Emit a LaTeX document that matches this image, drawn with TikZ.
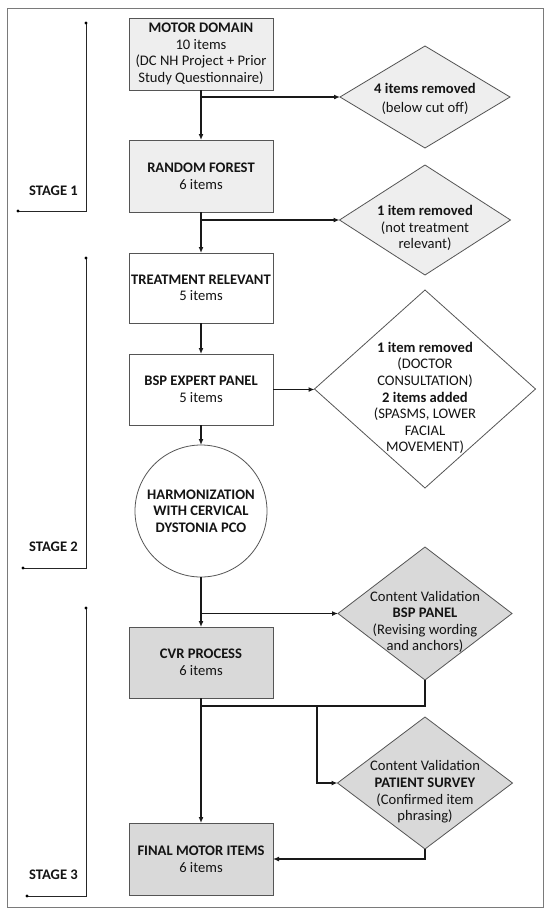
\documentclass[tikz,border=0pt]{standalone}
\usepackage{fontspec}
\setmainfont{Carlito}
\usetikzlibrary{shapes.geometric,arrows.meta,calc}
\definecolor{txt}{HTML}{141414}
\definecolor{lightfill}{HTML}{EEEEEE}
\definecolor{darkfill}{HTML}{D9D9D9}
\definecolor{edge}{HTML}{555555}
\definecolor{framec}{HTML}{7A7A7A}
\begin{document}
\begin{tikzpicture}[x=1pt,y=-1pt,
  every node/.style={font=\fontsize{14.6}{16.6}\selectfont, text=txt},
  box/.style={rectangle, draw=edge, line width=0.8pt, minimum width=144pt, minimum height=72pt, inner sep=0pt, outer sep=0pt, align=center},
  dia/.style={diamond, draw=edge, line width=0.8pt, inner sep=0pt, outer sep=0pt},
  dtext/.style={align=center, inner sep=0pt},
  conn/.style={line width=1.4pt, draw=black!90},
  arr/.style={conn, -{Latex[length=6pt,width=5pt]}},
  brk/.style={line width=0.8pt, draw=black!85},
  stagelbl/.style={font=\fontsize{14.6}{16.6}\selectfont\bfseries}
]
\useasboundingbox (0,0) rectangle (550,914);
\fill[white] (0,0) rectangle (550,914);
\draw[framec, line width=0.9pt] (7,8) rectangle (543,907);

% boxes
\node[box, fill=lightfill] (md) at (201,54) {\textbf{MOTOR DOMAIN}\\10 items\\(DC NH Project + Prior\\Study Questionnaire)};
\node[box, fill=lightfill] (rf) at (201,176) {\textbf{RANDOM FOREST}\\6 items};
\node[box, fill=white, minimum height=70pt] (tr) at (201,288) {\textbf{TREATMENT RELEVANT}\\5 items};
\node[box, fill=white, minimum height=71pt] (bsp) at (201,389.5) {\textbf{BSP EXPERT PANEL}\\5 items};
\node[circle, draw=edge, line width=0.8pt, fill=white, minimum size=132pt, inner sep=0pt, outer sep=0pt, align=center] (circ) at (201,511)
  {\fontsize{14.6}{18}\selectfont\textbf{HARMONIZATION}\\\textbf{WITH CERVICAL}\\\textbf{DYSTONIA PCO}};
\node[box, fill=darkfill, minimum height=71pt] (cvr) at (201,662.5) {\textbf{CVR PROCESS}\\6 items};
\node[box, fill=darkfill] (fin) at (201,859) {\textbf{FINAL MOTOR ITEMS}\\6 items};

% diamonds
\node[dia, fill=lightfill, minimum width=170pt, minimum height=102pt] (d1) at (425,97) {};
\node[dtext] at (425,99) {\textbf{4 items removed}\\[2pt](below cut off)};
\node[dia, fill=lightfill, minimum width=171pt, minimum height=110pt] (d2) at (425,220) {};
\node[dtext] at (425,228) {\textbf{1 item removed}\\(not treatment\\relevant)};
\node[dia, fill=white, minimum width=221pt, minimum height=198pt] (big) at (425,389) {};
\node[dtext] at (425,398) {\textbf{1 item removed}\\(DOCTOR\\CONSULTATION)\\\textbf{2 items added}\\(SPASMS, LOWER\\FACIAL\\MOVEMENT)};
\node[dia, fill=darkfill, minimum width=174pt, minimum height=133pt] (d3) at (425,613.5) {};
\node[dtext] at (425,622) {Content Validation\\\textbf{BSP PANEL}\\(Revising wording\\and anchors)};
\node[dia, fill=darkfill, minimum width=175pt, minimum height=132pt] (d4) at (425,783) {};
\node[dtext] at (425,792) {Content Validation\\\textbf{PATIENT SURVEY}\\(Confirmed item\\phrasing)};

% connectors
\draw[arr] (md.south) -- (rf.north);
\coordinate (j1) at (md.south |- d1.west);
\draw[arr] (j1) -- (d1.west);
\draw[arr] (rf.south) -- (tr.north);
\coordinate (j2) at (rf.south |- d2.west);
\draw[arr] (j2) -- (d2.west);
\draw[arr] (tr.south) -- (bsp.north);
\draw[arr] (bsp.east) -- (bsp.east -| big.west);
\draw[arr] (bsp.south) -- (circ.north);
\draw[arr] (circ.south) -- (cvr.north);
\coordinate (j3) at (circ.south |- d3.west);
\draw[arr] (j3) -- (d3.west);
\draw[arr] (cvr.south) -- (fin.north);
\coordinate (j4) at ($(cvr.south)+(0,8)$);
\draw[conn] (d3.south) |- (j4);
\coordinate (j5) at (317,706);
\draw[arr] (j5) |- (d4.west);
\draw[arr] (d4.south) |- (fin.east);

% stage brackets
\coordinate (s1a) at (86,23);
\coordinate (s1b) at (18,211);
\draw[brk] (s1a) |- (s1b);
\fill (s1a) circle (1.6pt) (s1b) circle (1.6pt);
\node[stagelbl] (st1) at (53.5,191) {STAGE 1};
\coordinate (s2a) at (86,258);
\coordinate (s2b) at (23,568);
\draw[brk] (s2a) |- (s2b);
\fill (s2a) circle (1.6pt) (s2b) circle (1.6pt);
\node[stagelbl] (st2) at (53.5,547) {STAGE 2};
\coordinate (s3a) at (86,608);
\coordinate (s3b) at (27,896);
\draw[brk] (s3a) |- (s3b);
\fill (s3a) circle (1.6pt) (s3b) circle (1.6pt);
\node[stagelbl] (st3) at (53.5,875) {STAGE 3};
\end{tikzpicture}
\end{document}
